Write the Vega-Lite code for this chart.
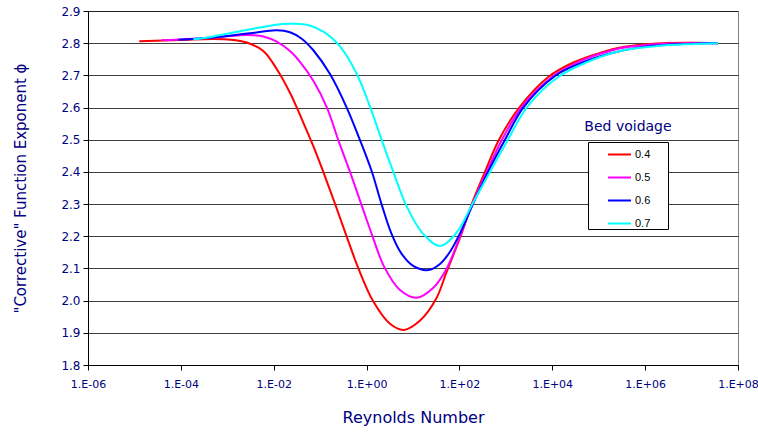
{
  "$schema": "https://vega.github.io/schema/vega-lite/v6.json",
  "width": 650,
  "height": 354,
  "autosize": {"type": "none"},
  "padding": {"left": 88, "top": 11, "right": 20, "bottom": 69},
  "background": "white",
  "config": {
    "view": {"stroke": "#808080", "strokeWidth": 1},
    "font": "DejaVu Sans",
    "axis": {
      "labelColor": "#000080",
      "titleColor": "#000080",
      "labelFont": "DejaVu Sans",
      "titleFont": "DejaVu Sans",
      "labelFontSize": 11,
      "titleFontSize": 15,
      "titleFontWeight": "normal",
      "domainColor": "#000000",
      "tickColor": "#000000",
      "tickSize": 5,
      "domainWidth": 1
    }
  },
  "layer": [
    {
      "data": {
        "values": [
          {"v": "0.4", "re": 1.27e-5, "phi": 2.806},
          {"v": "0.4", "re": 1.0e-4, "phi": 2.810},
          {"v": "0.4", "re": 5.0e-4, "phi": 2.813},
          {"v": "0.4", "re": 1.2e-3, "phi": 2.811},
          {"v": "0.4", "re": 2.62e-3, "phi": 2.802},
          {"v": "0.4", "re": 5.97e-3, "phi": 2.776},
          {"v": "0.4", "re": 1.16e-2, "phi": 2.720},
          {"v": "0.4", "re": 2.24e-2, "phi": 2.646},
          {"v": "0.4", "re": 4.0e-2, "phi": 2.565},
          {"v": "0.4", "re": 7.13e-2, "phi": 2.480},
          {"v": "0.4", "re": 0.117, "phi": 2.400},
          {"v": "0.4", "re": 0.209, "phi": 2.301},
          {"v": "0.4", "re": 0.373, "phi": 2.199},
          {"v": "0.4", "re": 0.664, "phi": 2.101},
          {"v": "0.4", "re": 1.40, "phi": 1.997},
          {"v": "0.4", "re": 3.19, "phi": 1.928},
          {"v": "0.4", "re": 6.40, "phi": 1.909},
          {"v": "0.4", "re": 14.2, "phi": 1.938},
          {"v": "0.4", "re": 31.3, "phi": 2.005},
          {"v": "0.4", "re": 53.2, "phi": 2.090},
          {"v": "0.4", "re": 106, "phi": 2.200},
          {"v": "0.4", "re": 184, "phi": 2.300},
          {"v": "0.4", "re": 355, "phi": 2.400},
          {"v": "0.4", "re": 711, "phi": 2.500},
          {"v": "0.4", "re": 1946, "phi": 2.600},
          {"v": "0.4", "re": 8200, "phi": 2.695},
          {"v": "0.4", "re": 28380, "phi": 2.740},
          {"v": "0.4", "re": 106400, "phi": 2.770},
          {"v": "0.4", "re": 338000, "phi": 2.788},
          {"v": "0.4", "re": 1.77e6, "phi": 2.799},
          {"v": "0.4", "re": 9.25e6, "phi": 2.801},
          {"v": "0.4", "re": 3.71e7, "phi": 2.800},

          {"v": "0.5", "re": 3.86e-5, "phi": 2.809},
          {"v": "0.5", "re": 5.0e-4, "phi": 2.818},
          {"v": "0.5", "re": 1.88e-3, "phi": 2.825},
          {"v": "0.5", "re": 3.63e-3, "phi": 2.825},
          {"v": "0.5", "re": 5.97e-3, "phi": 2.821},
          {"v": "0.5", "re": 1.16e-2, "phi": 2.805},
          {"v": "0.5", "re": 2.24e-2, "phi": 2.776},
          {"v": "0.5", "re": 3.68e-2, "phi": 2.742},
          {"v": "0.5", "re": 7.13e-2, "phi": 2.683},
          {"v": "0.5", "re": 0.138, "phi": 2.602},
          {"v": "0.5", "re": 0.246, "phi": 2.499},
          {"v": "0.5", "re": 0.440, "phi": 2.400},
          {"v": "0.5", "re": 0.780, "phi": 2.297},
          {"v": "0.5", "re": 1.35, "phi": 2.199},
          {"v": "0.5", "re": 2.40, "phi": 2.105},
          {"v": "0.5", "re": 5.25, "phi": 2.033},
          {"v": "0.5", "re": 12.0, "phi": 2.009},
          {"v": "0.5", "re": 27.4, "phi": 2.040},
          {"v": "0.5", "re": 53.2, "phi": 2.100},
          {"v": "0.5", "re": 103, "phi": 2.200},
          {"v": "0.5", "re": 190, "phi": 2.300},
          {"v": "0.5", "re": 386, "phi": 2.400},
          {"v": "0.5", "re": 826, "phi": 2.500},
          {"v": "0.5", "re": 2148, "phi": 2.600},
          {"v": "0.5", "re": 9840, "phi": 2.695},
          {"v": "0.5", "re": 30000, "phi": 2.736},
          {"v": "0.5", "re": 106400, "phi": 2.767},
          {"v": "0.5", "re": 338000, "phi": 2.786},
          {"v": "0.5", "re": 1.77e6, "phi": 2.797},
          {"v": "0.5", "re": 9.25e6, "phi": 2.800},
          {"v": "0.5", "re": 3.71e7, "phi": 2.800},

          {"v": "0.6", "re": 8.81e-5, "phi": 2.811},
          {"v": "0.6", "re": 5.0e-4, "phi": 2.818},
          {"v": "0.6", "re": 3.08e-3, "phi": 2.831},
          {"v": "0.6", "re": 1.16e-2, "phi": 2.840},
          {"v": "0.6", "re": 2.24e-2, "phi": 2.834},
          {"v": "0.6", "re": 4.0e-2, "phi": 2.814},
          {"v": "0.6", "re": 7.13e-2, "phi": 2.778},
          {"v": "0.6", "re": 0.163, "phi": 2.704},
          {"v": "0.6", "re": 0.373, "phi": 2.600},
          {"v": "0.6", "re": 0.721, "phi": 2.499},
          {"v": "0.6", "re": 1.29, "phi": 2.402},
          {"v": "0.6", "re": 2.10, "phi": 2.300},
          {"v": "0.6", "re": 3.40, "phi": 2.210},
          {"v": "0.6", "re": 5.60, "phi": 2.147},
          {"v": "0.6", "re": 10.1, "phi": 2.108},
          {"v": "0.6", "re": 21.3, "phi": 2.095},
          {"v": "0.6", "re": 38.1, "phi": 2.114},
          {"v": "0.6", "re": 62.7, "phi": 2.152},
          {"v": "0.6", "re": 103, "phi": 2.209},
          {"v": "0.6", "re": 199, "phi": 2.302},
          {"v": "0.6", "re": 412, "phi": 2.400},
          {"v": "0.6", "re": 957, "phi": 2.500},
          {"v": "0.6", "re": 2371, "phi": 2.600},
          {"v": "0.6", "re": 11430, "phi": 2.698},
          {"v": "0.6", "re": 39540, "phi": 2.737},
          {"v": "0.6", "re": 175000, "phi": 2.768},
          {"v": "0.6", "re": 774000, "phi": 2.787},
          {"v": "0.6", "re": 3.43e6, "phi": 2.796},
          {"v": "0.6", "re": 1.52e7, "phi": 2.799},
          {"v": "0.6", "re": 3.71e7, "phi": 2.800},

          {"v": "0.7", "re": 1.85e-4, "phi": 2.812},
          {"v": "0.7", "re": 5.0e-4, "phi": 2.821},
          {"v": "0.7", "re": 3.63e-3, "phi": 2.845},
          {"v": "0.7", "re": 1.91e-2, "phi": 2.860},
          {"v": "0.7", "re": 5.13e-2, "phi": 2.857},
          {"v": "0.7", "re": 0.117, "phi": 2.836},
          {"v": "0.7", "re": 0.268, "phi": 2.790},
          {"v": "0.7", "re": 0.612, "phi": 2.705},
          {"v": "0.7", "re": 1.19, "phi": 2.602},
          {"v": "0.7", "re": 2.12, "phi": 2.499},
          {"v": "0.7", "re": 3.77, "phi": 2.400},
          {"v": "0.7", "re": 7.2, "phi": 2.295},
          {"v": "0.7", "re": 16.0, "phi": 2.210},
          {"v": "0.7", "re": 38.1, "phi": 2.170},
          {"v": "0.7", "re": 87.3, "phi": 2.212},
          {"v": "0.7", "re": 190, "phi": 2.300},
          {"v": "0.7", "re": 455, "phi": 2.400},
          {"v": "0.7", "re": 1110, "phi": 2.500},
          {"v": "0.7", "re": 2812, "phi": 2.600},
          {"v": "0.7", "re": 13460, "phi": 2.695},
          {"v": "0.7", "re": 106400, "phi": 2.757},
          {"v": "0.7", "re": 338000, "phi": 2.778},
          {"v": "0.7", "re": 1.77e6, "phi": 2.791},
          {"v": "0.7", "re": 9.25e6, "phi": 2.797},
          {"v": "0.7", "re": 3.71e7, "phi": 2.800}
        ]
      },
      "mark": {"type": "line", "strokeWidth": 2, "interpolate": "catmull-rom"},
      "encoding": {
        "x": {
          "field": "re",
          "type": "quantitative",
          "scale": {"type": "log", "domain": [1e-6, 1e8], "nice": false},
          "axis": {
            "title": "Reynolds Number",
            "titleFontSize": 16,
            "values": [1e-6, 1e-4, 1e-2, 1, 100, 1e4, 1e6, 1e8],
            "labelExpr": "'1.E' + (datum.value >= 1 ? '+' : '-') + (abs(round(log(datum.value)/LN10)) < 10 ? '0' : '') + abs(round(log(datum.value)/LN10))",
            "grid": false,
            "labelPadding": 8,
            "titlePadding": 20,
            "labelFlush": false,
            "labelOverlap": false
          }
        },
        "y": {
          "field": "phi",
          "type": "quantitative",
          "scale": {"domain": [1.8, 2.9], "nice": false, "zero": false},
          "axis": {
            "title": "\"Corrective\" Function Exponent ϕ",
            "values": [1.8, 1.9, 2.0, 2.1, 2.2, 2.3, 2.4, 2.5, 2.6, 2.7, 2.8, 2.9],
            "format": ".1f",
            "labelFontSize": 12,
            "grid": true,
            "gridColor": "#000000",
            "gridOpacity": 0.75,
            "labelPadding": 3,
            "titlePadding": 32,
            "labelFlush": false,
            "labelOverlap": false
          }
        },
        "color": {
          "field": "v",
          "type": "nominal",
          "scale": {"domain": ["0.4", "0.5", "0.6", "0.7"], "range": ["#FF0000", "#FF00FF", "#0000FF", "#00FFFF"]},
          "legend": {
            "title": null,
            "orient": "none",
            "legendX": 500,
            "legendY": 131,
            "strokeColor": "#000000",
            "fillColor": "#FFFFFF",
            "padding": 0,
            "symbolType": "stroke",
            "symbolStrokeWidth": 2,
            "symbolSize": 529,
            "symbolOffset": 19,
            "labelOffset": 3,
            "labelFont": "Liberation Sans",
            "labelFontSize": 11,
            "labelColor": "#000000",
            "rowPadding": 5,
            "labelExpr": "datum.label + '\u00a0\u00a0\u00a0\u2800'"
          }
        }
      }
    },
    {
      "data": {"values": [{"t": "Bed voidage"}]},
      "mark": {"type": "text", "font": "DejaVu Sans", "fontSize": 14, "color": "#000080", "align": "center", "baseline": "middle"},
      "encoding": {
        "x": {
          "datum": 427000,
          "type": "quantitative",
          "axis": {
            "title": "Reynolds Number",
            "titleFontSize": 16,
            "values": [1e-6, 1e-4, 1e-2, 1, 100, 1e4, 1e6, 1e8],
            "labelExpr": "'1.E' + (datum.value >= 1 ? '+' : '-') + (abs(round(log(datum.value)/LN10)) < 10 ? '0' : '') + abs(round(log(datum.value)/LN10))",
            "grid": false,
            "labelPadding": 8,
            "titlePadding": 20,
            "labelFlush": false,
            "labelOverlap": false
          }
        },
        "y": {
          "datum": 2.539,
          "type": "quantitative",
          "axis": {
            "title": "\"Corrective\" Function Exponent ϕ",
            "values": [1.8, 1.9, 2.0, 2.1, 2.2, 2.3, 2.4, 2.5, 2.6, 2.7, 2.8, 2.9],
            "format": ".1f",
            "labelFontSize": 12,
            "grid": true,
            "gridColor": "#000000",
            "gridOpacity": 0.75,
            "labelPadding": 3,
            "titlePadding": 32,
            "labelFlush": false,
            "labelOverlap": false
          }
        },
        "text": {"field": "t"}
      }
    }
  ]
}
